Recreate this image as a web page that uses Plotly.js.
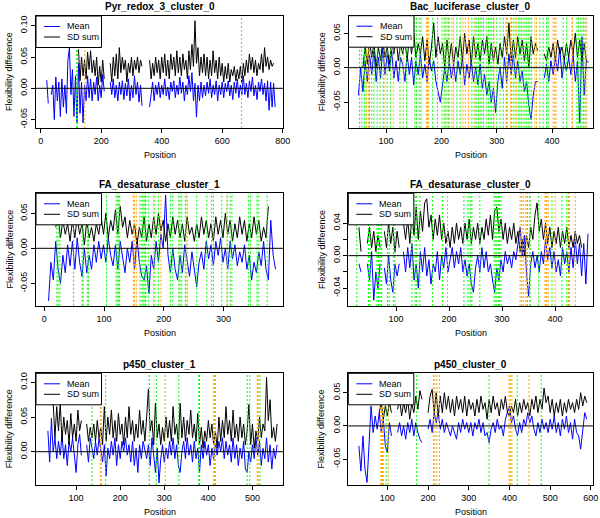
<!DOCTYPE html>
<html><head><meta charset="utf-8">
<script src="https://cdn.plot.ly/plotly-3.0.1.min.js"></script>
<style>html,body{margin:0;padding:0;background:#fff}#chart{width:600px;height:518px}</style>
</head><body><div id="chart"></div>
<script>
// ---------------- DATA ----------------
const panelTitles = ["Pyr_redox_3_cluster_0","Bac_luciferase_cluster_0","FA_desaturase_cluster_1","FA_desaturase_cluster_0","p450_cluster_1","p450_cluster_0"];
const legendLabels = ["Mean","SD sum"];
const xAxisLabel = "Position";
const yAxisLabel = "Flexibility difference";

// Panel 1: Pyr_redox_3_cluster_0 (positions 20,25,...)
const pyrStart = 20, pyrStep = 5;
const pyrMean = [
 0.013,-0.024,null,-0.01,0.005,-0.05,0.018,-0.02,0.01,-0.045,
 0.015,-0.03,0.005,-0.04,0.045,0.065,-0.01,0.03,-0.045,0.02,
 -0.055,0.04,-0.04,0.01,-0.055,0.005,-0.02,0.02,-0.015,0.015,
 -0.02,0.01,-0.01,0.018,-0.02,0.005,-0.015,0.022,-0.005,null,
 null,null,0.01,-0.01,0.015,-0.015,0.005,-0.02,0.01,-0.01,
 0.012,-0.018,0.008,-0.012,0.015,-0.02,0.005,-0.015,0.02,-0.01,
 0.01,-0.022,0.005,-0.028,null,null,null,null,-0.03,-0.005,
 0.01,-0.02,0.005,-0.01,0.01,-0.015,0.005,-0.01,0.015,-0.012,
 0.002,-0.018,0.01,-0.005,0.012,-0.015,0.005,-0.01,0.018,-0.008,
 0.01,-0.02,0.005,-0.01,0.02,-0.005,0.025,-0.02,0.008,-0.046,
 0.005,-0.02,0.01,-0.015,0.005,-0.012,0.01,-0.008,0.015,-0.015,
 0.005,-0.01,0.012,-0.02,0.005,-0.01,0.01,-0.015,0.008,-0.005,
 0.012,-0.012,0.005,-0.018,0.01,-0.008,0.015,-0.015,0.005,-0.01,
 0.02,-0.01,0.008,-0.015,0.012,-0.005,0.018,-0.012,0.005,-0.018,
 0.01,-0.005,0.015,-0.01,0.008,-0.02,0.012,-0.035,0.01,-0.03,
 0.008,-0.03];
const pyrSd = [
 null,null,null,null,null,null,null,null,null,null,
 null,null,null,null,null,null,null,null,null,null,
 null,0.062,0.012,0.05,0.02,0.045,0.015,0.058,0.03,0.06,
 0.025,0.045,0.02,0.05,0.005,0.035,0.01,0.045,0.015,null,
 null,null,0.04,0.01,0.05,0.02,0.055,0.015,0.065,0.025,
 0.05,0.03,0.045,0.01,0.04,0.025,0.05,0.02,0.045,0.03,
 0.05,0.025,0.045,0.035,null,null,null,null,0.045,0.015,
 0.04,0.02,0.05,0.025,0.045,0.015,0.05,0.025,0.055,0.02,
 0.045,0.015,0.055,0.03,0.05,0.02,0.06,0.025,0.05,0.02,
 0.055,0.03,0.045,0.015,0.06,0.03,0.07,0.035,0.108,0.04,
 0.065,0.02,0.05,0.025,0.055,0.02,0.05,0.015,0.045,0.02,
 0.06,0.025,0.045,0.015,0.05,0.02,0.04,0.01,0.035,0.015,
 0.04,0.01,0.03,0.02,0.035,0.012,0.03,0.015,0.035,0.01,
 0.04,0.02,0.045,0.025,0.055,0.03,0.05,0.025,0.045,0.02,
 0.04,0.03,0.055,0.025,0.065,0.035,0.05,0.03,0.045,0.035,
 0.04,null];
const pyrGreen = [119,121];
const pyrOrange = [146,664];

// Panel 2: Bac_luciferase_cluster_0 (positions 50,54,...)
const bacStart = 50, bacStep = 4;
const bacMean = [
 -0.04,0.0,-0.035,0.01,-0.02,0.02,-0.01,0.025,-0.02,0.015,
 -0.015,0.03,-0.01,0.02,-0.005,0.025,-0.015,0.01,-0.02,0.015,
 0.005,-0.02,0.02,-0.01,0.015,-0.025,0.01,-0.01,0.02,-0.015,
 0.005,-0.02,0.015,-0.005,0.01,-0.02,-0.035,-0.05,-0.025,0.0,
 -0.02,0.01,-0.015,0.005,-0.02,0.01,-0.01,0.015,-0.025,0.005,
 -0.015,0.01,-0.02,0.0,-0.025,0.005,-0.03,-0.01,-0.04,-0.02,
 -0.05,-0.03,-0.065,-0.02,0.0,-0.03,0.015,-0.02,0.02,-0.01,
 0.02,-0.015,0.01,-0.02,-0.005,-0.035,-0.02,-0.055,-0.075,-0.04,
 -0.02,-0.02,null,null,-0.015,0.005,-0.02,0.01,-0.01,0.015,
 -0.005,0.03,-0.015,0.01,-0.005,0.015,-0.01,0.02,-0.02,0.01,
 -0.08,0.045,-0.04,0.01,0.008];
const bacSd = [
 null,null,0.0,0.03,0.005,0.04,0.015,0.035,0.0,0.03,
 0.01,0.04,0.015,0.03,0.005,0.04,0.02,0.045,0.01,0.035,
 0.02,0.04,0.01,0.045,0.02,0.05,0.015,0.035,0.02,0.045,
 0.01,0.04,0.005,0.03,0.065,0.015,0.045,0.02,0.035,0.0,
 0.04,0.01,0.035,0.005,0.03,0.015,0.045,0.01,0.05,0.02,
 0.04,0.005,0.045,0.015,0.035,0.01,0.04,0.02,0.045,0.005,
 0.035,0.01,0.03,0.005,0.035,0.015,0.045,0.02,0.065,0.01,
 0.04,0.015,0.045,0.02,0.04,0.01,0.035,0.0,0.045,0.02,
 0.035,0.025,null,null,0.02,0.01,0.03,0.015,0.035,0.01,
 0.04,0.02,0.03,0.01,0.035,0.015,0.04,0.02,0.05,0.015,
 0.04,0.01,0.035,0.01,null];
const bacGreen = [52,56,61,64,70,74,78,84,89,95,102,108,125,137,152,155,160,163,184,193,201,205,210,213,228,234,255,261,264,267,270,273,276,282,285,288,291,294,300,306,312,318,327,333,339,342,345,348,351,354,357,360,363,378,384,390,393,420,426,445,448,451,454,457,460];
const bacOrange = [65,68,98,113,131,173,175,177,207,214,219,222,239,243,249,259,295,317,319,325,330,336,369,372,402,405,407,436,437,460,463];

// Panel 3: FA_desaturase_cluster_1 (positions 7,11,...)
const fa1Start = 7, fa1Step = 4;
const fa1Mean = [
 -0.075,-0.02,-0.045,0.01,-0.03,-0.05,-0.01,-0.035,0.005,-0.025,
 0.01,-0.03,0.015,-0.02,-0.04,0.0,-0.035,-0.01,-0.03,0.005,
 -0.02,0.01,-0.015,0.005,-0.02,0.015,-0.01,-0.025,0.005,-0.03,
 0.01,-0.015,-0.035,0.0,-0.02,0.01,-0.03,0.015,-0.02,-0.04,
 -0.045,-0.025,-0.065,-0.01,-0.03,0.01,-0.02,0.02,0.0,0.076,
 -0.01,-0.035,0.0,-0.03,-0.045,-0.01,-0.035,0.005,-0.02,-0.04,
 -0.005,-0.03,-0.055,-0.02,-0.005,-0.03,0.01,-0.015,0.005,-0.025,
 0.01,-0.01,0.015,-0.02,0.0,-0.03,0.01,-0.015,0.005,-0.025,
 -0.005,-0.02,0.005,-0.03,-0.01,-0.045,-0.02,-0.035,-0.005,-0.025,
 0.01,-0.03,-0.045,0.04,-0.01,-0.03];
const fa1Sd = [
 null,null,null,0.03,0.045,0.015,0.04,0.02,0.035,0.01,
 0.04,0.015,0.045,0.02,0.035,0.005,0.04,0.015,0.03,0.01,
 0.035,0.02,0.045,0.02,0.05,0.015,0.04,0.025,0.055,0.02,
 0.06,0.03,0.045,0.015,0.04,0.02,0.035,0.005,0.03,0.015,
 0.045,0.01,0.035,0.015,0.045,0.02,0.05,0.025,0.04,0.01,
 0.035,0.015,0.045,0.02,0.04,0.015,0.035,0.01,0.045,0.02,
 0.03,0.01,0.035,0.015,0.045,0.02,0.04,0.015,0.035,0.01,
 0.045,0.02,0.04,0.015,0.05,0.02,0.04,0.01,0.035,0.015,
 0.045,0.02,0.04,0.01,0.035,0.015,0.045,0.02,0.04,0.01,
 0.03,0.015,0.06,null,null,null];
const fa1Green = [21,23,26,49,63,65,72,74,104,120,122,124,126,160,163,165,167,169,170,174,185,191,211,215,225,227,230,236,239,255,272,280,283,297,306,311,314,342,345,356,359,373];
const fa1Orange = [149,151,154,183,195,237,306];

// Panel 4: FA_desaturase_cluster_0 (positions 30,34,...)
const fa0Start = 30, fa0Step = 4;
const fa0Mean = [
 -0.01,-0.02,null,null,-0.01,-0.03,0.005,-0.055,-0.02,-0.04,
 -0.01,null,-0.015,-0.035,0.0,-0.03,-0.045,-0.01,-0.025,-0.01,
 null,0.005,-0.02,0.01,-0.015,0.015,-0.03,-0.01,-0.04,0.005,
 -0.02,0.01,-0.025,-0.005,-0.035,-0.01,-0.02,0.005,-0.03,0.0,
 -0.015,0.01,-0.02,-0.005,0.01,-0.015,0.005,-0.01,0.01,-0.02,
 -0.005,-0.025,-0.01,-0.035,-0.045,-0.015,0.0,-0.02,0.01,-0.015,
 0.005,-0.02,-0.01,-0.03,-0.045,-0.015,-0.03,-0.005,-0.02,0.005,
 -0.01,0.0,-0.015,0.005,-0.005,0.015,0.035,0.0,0.025,-0.02,
 -0.05,-0.01,0.005,-0.015,0.0,-0.02,0.005,-0.01,0.02,-0.005,
 0.01,-0.015,0.005,-0.02,-0.005,-0.025,0.01,-0.01,0.005,-0.02,
 0.01,-0.015,0.02,-0.01,0.015,-0.025,0.015,-0.035,0.027];
const fa0Sd = [
 0.035,0.005,null,null,0.015,0.035,0.01,0.03,0.005,0.025,
 0.01,null,0.03,0.01,0.04,0.015,0.035,0.005,0.03,0.01,
 null,0.04,0.02,0.045,0.015,0.05,0.025,0.06,0.02,0.055,
 0.03,0.065,0.07,0.035,0.05,0.02,0.045,0.025,0.05,0.02,
 0.04,0.015,0.03,0.01,0.035,0.015,0.04,0.02,0.035,0.015,
 0.04,0.02,0.045,0.015,0.035,0.02,0.04,0.015,0.035,0.02,
 0.045,0.025,0.05,0.02,0.055,0.06,0.03,0.045,0.02,0.04,
 0.015,0.035,0.02,0.04,0.015,0.03,0.005,0.02,0.0,0.025,
 0.01,0.035,0.02,0.05,0.065,0.03,0.045,0.02,0.04,0.015,
 0.035,0.01,0.03,0.015,0.035,0.01,0.03,0.015,0.035,0.01,
 0.025,0.01,0.03,0.015,0.025,0.01,null,null,null];
const fa0Green = [26,48,51,64,67,70,73,84,87,95,98,130,136,139,145,169,188,228,236,240,243,258,285,287,290,293,295,298,353,369,394,413,422,425];
const fa0Orange = [197,334,337,340,345,347,348,352,381,383,384,387,400,425,427,438];

// Panel 5: p450_cluster_1 (positions 36,40,...)
const p1Start = 36, p1Step = 4;
const p1Mean = [
 0.03,-0.015,0.048,0.0,0.02,-0.01,0.015,-0.005,0.025,-0.01,
 0.01,-0.02,0.015,0.0,0.02,-0.01,-0.03,0.01,0.025,-0.005,
 null,null,0.01,-0.015,0.02,0.005,-0.01,0.015,-0.005,0.02,
 0.005,-0.015,0.01,-0.035,0.005,-0.01,0.015,-0.005,0.02,-0.02,
 0.01,-0.01,0.015,0.0,0.02,-0.005,0.01,-0.015,0.015,-0.02,
 0.005,-0.03,0.01,-0.01,0.015,0.0,-0.01,0.01,-0.02,0.02,
 -0.01,-0.03,0.005,-0.045,-0.01,0.01,-0.015,0.005,-0.01,0.015,
 -0.005,0.02,-0.01,0.01,-0.02,-0.03,0.0,0.015,-0.01,0.02,
 -0.005,0.01,-0.015,0.015,-0.01,0.005,-0.03,0.01,-0.01,0.015,
 -0.005,0.01,-0.02,0.005,-0.01,0.012,-0.005,0.015,0.0,0.02,
 -0.01,0.015,-0.005,0.01,-0.015,0.02,-0.01,0.01,-0.02,0.005,
 -0.01,0.015,-0.025,-0.03,0.0,-0.015,0.01,-0.01,0.02,-0.005,
 0.015,-0.02,0.005,-0.01,0.02,-0.015,0.01,-0.025,0.005,-0.01,
 0.01];
const p1Sd = [
 null,null,null,0.07,0.02,0.065,0.03,0.07,0.015,0.05,
 0.025,0.045,0.01,0.055,0.02,0.04,0.015,0.06,0.03,0.045,
 null,null,0.04,0.015,0.035,0.02,0.04,0.015,0.045,0.02,
 0.035,0.01,0.065,0.015,0.05,0.025,0.06,0.02,0.045,0.015,
 0.055,0.025,0.04,0.01,0.05,0.02,0.065,0.025,0.045,0.015,
 0.04,0.02,0.06,0.025,0.045,0.015,0.05,0.09,0.03,0.045,
 0.01,0.07,0.02,0.04,0.01,0.035,0.015,0.05,0.02,0.045,
 0.015,0.065,0.025,0.04,0.01,0.07,0.02,0.05,0.015,0.045,
 0.025,0.06,0.02,0.04,0.015,0.055,0.01,0.035,0.005,0.03,
 0.015,0.045,0.02,0.04,0.01,0.03,0.005,0.05,0.015,0.045,
 0.02,0.065,0.025,0.045,0.015,0.06,0.02,0.04,0.015,0.05,
 0.02,0.04,0.01,0.03,0.068,0.01,0.04,0.005,0.03,0.015,
 0.05,0.02,0.04,0.03,0.107,0.045,0.075,0.02,0.035,0.015,
 0.04];
const p1Green = [136,167,266,282,333,378,380,488,494,517];
const p1Orange = [155,157,302,412,414,416,511,513];

// Panel 6: p450_cluster_0 (positions 30,35,...)
const p0Start = 30, p0Step = 5;
const p0Mean = [
 -0.03,-0.068,-0.015,-0.065,-0.085,-0.02,0.03,-0.01,0.015,-0.005,
 0.02,-0.01,0.01,-0.03,-0.04,0.005,-0.015,null,null,-0.01,
 0.005,-0.015,0.0,-0.02,0.005,-0.01,0.01,-0.015,0.005,-0.01,
 -0.02,-0.025,null,null,-0.005,0.01,-0.01,0.02,0.005,0.02,
 -0.005,0.01,-0.01,0.005,-0.005,-0.015,0.0,-0.01,-0.02,0.005,
 -0.01,0.01,-0.005,0.005,-0.01,0.005,-0.015,0.005,-0.005,0.01,
 -0.01,0.005,-0.015,-0.01,-0.025,-0.005,0.005,-0.01,0.01,-0.005,
 0.0,-0.015,0.01,0.02,0.03,0.005,0.015,-0.005,-0.015,0.005,
 -0.01,0.01,0.0,0.02,0.005,0.015,-0.005,-0.015,0.005,-0.01,
 0.01,-0.005,0.005,-0.01,0.01,-0.005,0.015,-0.01,0.005,-0.015,
 0.01,-0.005,0.015,-0.01,0.005,-0.02,0.01,-0.01,-0.015,-0.035,
 -0.005,0.02,0.01];
const p0Sd = [
 null,null,null,null,null,null,null,null,null,null,
 0.02,0.035,0.01,0.03,0.015,0.035,0.02,null,null,0.025,
 0.04,0.015,0.035,0.02,0.04,0.01,0.035,0.02,0.045,0.025,
 0.053,0.04,null,null,0.02,0.045,0.055,0.02,0.05,0.015,
 0.045,0.02,0.05,0.025,0.045,0.02,0.04,0.015,0.045,0.025,
 0.04,0.02,0.045,0.015,0.04,0.025,0.035,0.015,0.04,0.02,
 0.045,0.025,0.035,0.01,0.04,0.02,0.045,0.025,0.035,0.015,
 0.04,0.025,0.045,0.02,0.015,0.03,0.02,0.04,0.015,0.035,
 0.02,0.04,0.025,0.035,0.015,0.04,0.025,0.045,0.02,0.04,
 0.025,0.057,0.035,0.045,0.02,0.04,0.015,0.035,0.02,0.04,
 0.015,0.035,0.02,0.04,0.025,0.035,0.02,0.04,0.025,0.05,
 0.03,0.045,0.035];
const p0Green = [97,172,350,419,478];
const p0Orange = [84,86,88,90,102,213,217,222,228,399,402,406,448];

// tick values / labels
const xTicks = [[0,200,400,600,800],[100,200,300,400],[0,100,200,300],[100,200,300,400],[100,200,300,400,500],[100,200,300,400,500,600]];
const yTicks = [[-0.05,0,0.05,0.1],[-0.05,0,0.05],[-0.05,0,0.05],[-0.04,-0.02,0,0.02,0.04],[0,0.05,0.1],[-0.05,0,0.05]];
const yTickText = [["-0.05","0.00","0.05","0.10"],["-0.05","0.00","0.05"],["-0.05","0.00","0.05"],["-0.04","","0.00","","0.04"],["0.00","0.05","0.10"],["-0.05","0.00","0.05"]];
const xRanges = [[-15.5,801],[32,474],[-14,400],[10,472],[9,570],[4,606]];
const yRanges = [[-0.0634,0.1155],[-0.087,0.0754],[-0.082,0.0786],[-0.062,0.0768],[-0.048,0.113],[-0.0889,0.0792]];

// ---------------- BUILD ----------------
const panels = [
  {start:pyrStart, step:pyrStep, mean:pyrMean, sd:pyrSd, green:pyrGreen, orange:pyrOrange},
  {start:bacStart, step:bacStep, mean:bacMean, sd:bacSd, green:bacGreen, orange:bacOrange},
  {start:fa1Start, step:fa1Step, mean:fa1Mean, sd:fa1Sd, green:fa1Green, orange:fa1Orange},
  {start:fa0Start, step:fa0Step, mean:fa0Mean, sd:fa0Sd, green:fa0Green, orange:fa0Orange},
  {start:p1Start, step:p1Step, mean:p1Mean, sd:p1Sd, green:p1Green, orange:p1Orange},
  {start:p0Start, step:p0Step, mean:p0Mean, sd:p0Sd, green:p0Green, orange:p0Orange}
];
// frame geometry in pixels (left, right, top, bottom)
const W = 600, H = 518;
const frames = [
  {l:36, r:283, t:16, b:128},
  {l:348.5, r:593, t:15.7, b:127.7},
  {l:36, r:283.3, t:193.3, b:305.7},
  {l:348.3, r:593.3, t:193.3, b:306},
  {l:36, r:283.3, t:373.3, b:485},
  {l:348.3, r:593.3, t:373.3, b:485}
];
const FONT = "Liberation Sans, Arial, Helvetica, sans-serif";
const px = x => x / W;
const py = y => 1 - y / H;

const traces = [], shapes = [], annotations = [];
const layout = {
  width: W, height: H, margin:{l:0,r:0,t:0,b:0},
  paper_bgcolor:'#fff', plot_bgcolor:'#fff', showlegend:false,
  font:{family:FONT, color:'#000'}
};

panels.forEach((p, k) => {
  const s = k === 0 ? '' : String(k + 1);
  const f = frames[k];
  const xs = p.mean.map((_, i) => p.start + p.step * i);
  traces.push({x: xs, y: p.mean, xaxis:'x'+s, yaxis:'y'+s, type:'scatter', mode:'lines',
    name: legendLabels[0], line:{color:'#0000ff', width:1}, connectgaps:false, hoverinfo:'skip'});
  traces.push({x: xs, y: p.sd, xaxis:'x'+s, yaxis:'y'+s, type:'scatter', mode:'lines',
    name: legendLabels[1], line:{color:'#000000', width:1}, connectgaps:false, hoverinfo:'skip'});

  const common = {showline:true, mirror:true, linecolor:'#000', linewidth:1, ticks:'outside', ticklen:4,
    tickwidth:1, tickcolor:'#000', showgrid:false, zeroline:false, fixedrange:true,
    tickfont:{family:FONT, size:9, color:'#000'}};
  layout['xaxis'+s] = Object.assign({}, common, {domain:[px(f.l), px(f.r)], range:xRanges[k], anchor:'y'+s,
    tickmode:'array', tickvals:xTicks[k], ticktext:xTicks[k].map(String)});
  layout['yaxis'+s] = Object.assign({}, common, {domain:[py(f.b), py(f.t)], range:yRanges[k], anchor:'x'+s,
    tickmode:'array', tickvals:yTicks[k], ticktext:yTickText[k], tickangle:-90});

  // vertical dotted markers
  p.green.forEach(v => shapes.push({type:'line', xref:'x'+s, yref:'y'+s+' domain', x0:v, x1:v, y0:0, y1:1,
    line:{color:'#00ff00', width:1, dash:'2px,2px'}, layer:'above'}));
  p.orange.forEach(v => shapes.push({type:'line', xref:'x'+s, yref:'y'+s+' domain', x0:v, x1:v, y0:0, y1:1,
    line:{color:'#ffa500', width:1, dash:'2px,2px'}, layer:'above'}));
  // zero line
  shapes.push({type:'line', xref:'x'+s+' domain', yref:'y'+s, x0:0, x1:1, y0:0, y1:0,
    line:{color:'#000', width:1}, layer:'above'});

  // legend box
  const lw = 65.5, lh = 31.5;
  shapes.push({type:'rect', xref:'paper', yref:'paper', x0:px(f.l), x1:px(f.l+lw), y0:py(f.t+lh), y1:py(f.t),
    fillcolor:'#fff', line:{color:'#000', width:1}, layer:'above'});
  const rows = [f.t + 10.5, f.t + 21];
  const cols = ['#0000ff', '#000000'];
  rows.forEach((ry, j) => {
    shapes.push({type:'line', xref:'paper', yref:'paper', x0:px(f.l+8), x1:px(f.l+24), y0:py(ry), y1:py(ry),
      line:{color:cols[j], width:1}, layer:'above'});
    annotations.push({xref:'paper', yref:'paper', x:px(f.l+29), y:py(ry), xanchor:'left', yanchor:'middle',
      text:legendLabels[j], showarrow:false, font:{family:FONT, size:9, color:'#000'}});
  });

  // title
  annotations.push({xref:'paper', yref:'paper', x:px((f.l+f.r)/2), y:py(f.t-9), xanchor:'center', yanchor:'middle',
    text:'<b>'+panelTitles[k]+'</b>', showarrow:false, font:{family:FONT, size:10, color:'#000'}});
  // axis titles
  annotations.push({xref:'paper', yref:'paper', x:px((f.l+f.r)/2), y:py(f.b+27), xanchor:'center', yanchor:'middle',
    text:xAxisLabel, showarrow:false, font:{family:FONT, size:9, color:'#000'}});
  annotations.push({xref:'paper', yref:'paper', x:px(f.l-27), y:py((f.t+f.b)/2), xanchor:'center', yanchor:'middle',
    text:yAxisLabel, textangle:-90, showarrow:false, font:{family:FONT, size:9, color:'#000'}});
});

layout.shapes = shapes;
layout.annotations = annotations;
Plotly.newPlot('chart', traces, layout, {staticPlot:true, displayModeBar:false});
</script>
</body></html>
